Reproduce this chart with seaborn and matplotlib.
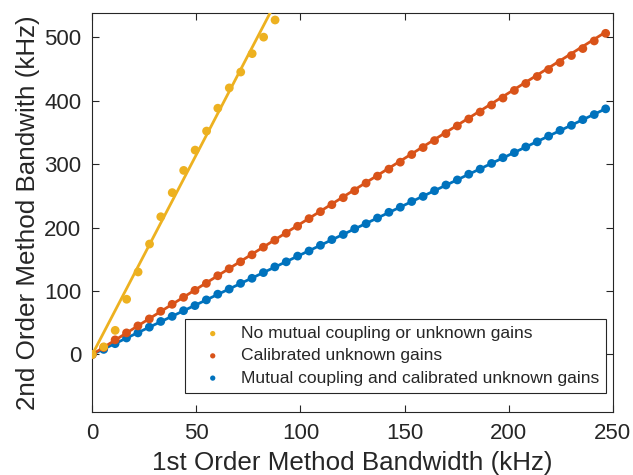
import numpy as np
import pandas as pd
import matplotlib
matplotlib.use("Agg")
import matplotlib.pyplot as plt
import seaborn as sns

# ---- data ----
x_yellow = [0.0, 5.5, 11.0, 16.5, 22.0, 27.5, 32.9, 38.4, 43.9, 49.4,
            54.9, 60.3, 65.8, 71.3, 76.8, 82.3, 87.8]
y_yellow = [0, 12, 38, 87, 130, 174, 217, 255, 290, 322,
            352, 388, 420, 445, 474, 500, 527]

x_shared = [0.0, 5.48, 10.96, 16.44, 21.92, 27.4, 32.88, 38.36, 43.84, 49.32,
            54.8, 60.28, 65.76, 71.24, 76.72, 82.2, 87.68, 93.16, 98.64, 104.12,
            109.6, 115.08, 120.56, 126.04, 131.52, 137.0, 142.48, 147.96, 153.44, 158.92,
            164.4, 169.88, 175.36, 180.84, 186.32, 191.8, 197.28, 202.76, 208.24, 213.72,
            219.2, 224.68, 230.16, 235.64, 241.12, 246.6]
y_orange = [0, 11, 23, 34, 45, 56, 68, 79, 90, 101,
            112, 124, 135, 146, 157, 169, 180, 191, 202, 214,
            225, 236, 247, 258, 270, 281, 292, 303, 315, 326,
            337, 348, 360, 371, 382, 393, 404, 416, 427, 438,
            449, 460, 471, 482, 494, 506]
y_blue = [0, 8, 17, 26, 34, 43, 52, 60, 69, 77,
          86, 95, 103, 112, 120, 129, 138, 146, 155, 163,
          172, 181, 189, 198, 206, 215, 224, 232, 241, 249,
          258, 267, 275, 284, 292, 301, 310, 318, 327, 335,
          344, 353, 361, 370, 378, 387]

fit_slopes = {"yellow": 6.3, "orange": 2.06, "blue": 1.57}

labels = ["No mutual coupling or unknown gains",
          "Calibrated unknown gains",
          "Mutual coupling and calibrated unknown gains"]
colors = {"yellow": "#EDB120", "orange": "#D95319", "blue": "#0072BD"}

x_ticks = [0, 50, 100, 150, 200, 250]
y_ticks = [0, 100, 200, 300, 400, 500]

# ---- plotting ----
sns.set_theme(style="ticks")
plt.rcParams["font.family"] = ["Liberation Sans", "DejaVu Sans"]

fig = plt.figure(figsize=(6.33, 4.75), dpi=100)
ax = fig.add_axes([0.1458, 0.1335, 0.968 - 0.1458, 0.9726 - 0.1335])

series = [
    ("blue", x_shared, y_blue, labels[2]),
    ("orange", x_shared, y_orange, labels[1]),
    ("yellow", x_yellow, y_yellow, labels[0]),
]
for key, xs, ys, lab in series:
    df = pd.DataFrame({"x": xs, "y": ys})
    sns.scatterplot(data=df, x="x", y="y", ax=ax, color=colors[key],
                    s=40, edgecolor="none", linewidth=0, label=lab, zorder=3)
    xs_fit = np.array([0.0, max(xs) * 1.0])
    fit_df = pd.DataFrame({"x": xs_fit, "y": fit_slopes[key] * xs_fit})
    sns.lineplot(data=fit_df, x="x", y="y", ax=ax, color=colors[key],
                 linewidth=2.0, zorder=3, legend=False)

ax.set_xlim(0, 250)
ax.set_ylim(-90, 538)
ax.set_xticks(x_ticks)
ax.set_yticks(y_ticks)
ax.set_xlabel("1st Order Method Bandwidth (kHz)", fontsize=18.7, color="#262626", labelpad=5)
ax.set_ylabel("2nd Order Method Bandwith (kHz)", fontsize=18.7, color="#262626", labelpad=3)
ax.tick_params(direction="in", length=5, width=0.8, top=True, right=True,
               labelsize=16, colors="#262626", pad=8)
for sp in ax.spines.values():
    sp.set_visible(True)
    sp.set_color("#262626")
    sp.set_linewidth(0.8)

h, l = ax.get_legend_handles_labels()
order = [l.index(t) for t in labels]
leg = ax.legend([h[i] for i in order], [l[i] for i in order],
                loc="lower right", bbox_to_anchor=(0.987, 0.0474),
                borderaxespad=0, fontsize=12.6, frameon=True, fancybox=False,
                edgecolor="#262626", framealpha=1, markerscale=0.6,
                handletextpad=0.4, borderpad=0.4, labelspacing=0.4,
                handlelength=2.4)
leg.get_frame().set_linewidth(0.8)
for t in leg.get_texts():
    t.set_color("#262626")

fig.savefig("out.png", dpi=100)
